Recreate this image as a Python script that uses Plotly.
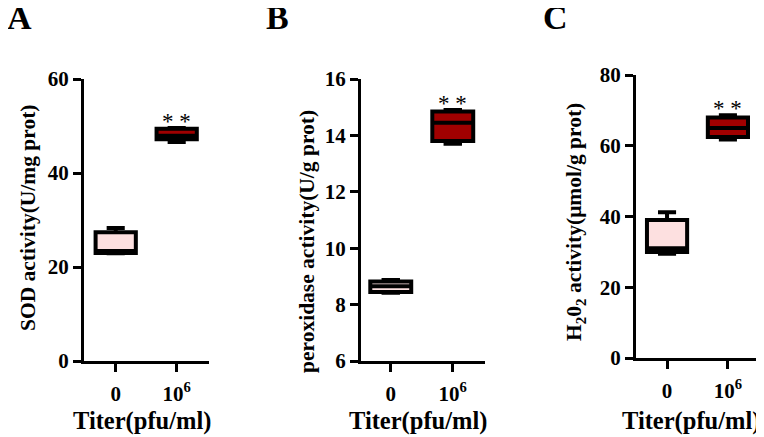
import plotly.graph_objects as go

# groups on the x axis
groups = ["0", "10<sup>6</sup>"]

# A: SOD activity (U/mg prot)
sod_low = [22.9, 46.6]
sod_q1 = [23.0, 47.2]
sod_med = [23.4, 47.9]
sod_q3 = [27.4, 49.4]
sod_high = [28.3, 49.6]

# B: peroxidase activity (U/g prot)
pod_low = [8.42, 13.7]
pod_q1 = [8.45, 13.8]
pod_med = [8.65, 14.45]
pod_q3 = [8.82, 14.85]
pod_high = [8.87, 14.9]

# C: H2O2 activity (umol/g prot)
h2o2_low = [29.5, 61.8]
h2o2_q1 = [30.0, 62.5]
h2o2_med = [31.0, 65.0]
h2o2_q3 = [39.0, 68.0]
h2o2_high = [41.2, 68.6]

fills = ["#FDE0E0", "#A00000"]
FONT = "Liberation Serif, Times New Roman, serif"
# page body has an 8px margin, so the figure is a bit smaller and offset
OFF = 8
W, H = 764 - OFF, 437 - OFF


def fx(x):
    return (x - OFF) / W


def fy(y):
    return 1 - (y - OFF) / H


fig = go.Figure()

panels = [
    ("", sod_low, sod_q1, sod_med, sod_q3, sod_high),
    ("2", pod_low, pod_q1, pod_med, pod_q3, pod_high),
    ("3", h2o2_low, h2o2_q1, h2o2_med, h2o2_q3, h2o2_high),
]
for ax, lo, q1, med, q3, hi in panels:
    for i, g in enumerate(groups):
        fig.add_trace(go.Box(
            x=[g], lowerfence=[lo[i]], q1=[q1[i]], median=[med[i]],
            q3=[q3[i]], upperfence=[hi[i]],
            fillcolor=fills[i], line=dict(color="black", width=4),
            width=0.66, whiskerwidth=0.45, showlegend=False,
            xaxis="x" + ax, yaxis="y" + ax, hoverinfo="skip",
        ))
    # significance stars over the infected group
    fig.add_annotation(x=groups[1], y=hi[1], xref="x" + ax, yref="y" + ax,
                       text="* *", showarrow=False, yanchor="bottom", yshift=-8,
                       font=dict(family=FONT, size=23, color="black"))

# pixel layout of each panel: x0, x1 of axis, y of bottom, y of top, range, ticks
px = [
    (84, 209, 361, 79, [0, 60], [0, 20, 40, 60], [-0.52, 1.53]),
    (361, 485, 361, 79, [6, 16], [6, 8, 10, 12, 14, 16], [-0.48, 1.52]),
    (636, 762, 358, 75, [0, 80], [0, 20, 40, 60, 80], [-0.51, 1.56]),
]
lay = {}
for k, (x0, x1, yb, yt, yr, tv, xr) in enumerate(px):
    sfx = "" if k == 0 else str(k + 1)
    common = dict(showline=True, linecolor="black", linewidth=3, ticks="outside",
                  ticklen=8, tickwidth=3, tickcolor="black", showgrid=False,
                  zeroline=False, automargin=False,
                  tickfont=dict(family=FONT, size=21, color="black", weight="bold"))
    lay["xaxis" + sfx] = dict(domain=[fx(x0), min(fx(x1), 1)], range=xr,
                              type="category", anchor="y" + sfx,
                              ticklabelstandoff=4, **common)
    lay["yaxis" + sfx] = dict(domain=[fy(yb), fy(yt)], range=yr,
                              tickvals=tv, anchor="x" + sfx, **common)
fig.update_layout(**lay)

ytitle_font = dict(family=FONT, size=21.5, color="black", weight="bold")
xtitle_font = dict(family=FONT, size=24.5, color="black", weight="bold")
ytitles = [
    ("SOD activity(U/mg prot)", 28, 218),
    ("peroxidase activity(U/g prot)", 307, 242),
    ("H<sub>2</sub>0<sub>2</sub> activity(μmol/g prot)", 575, 222),
]
for txt, xc, yc in ytitles:
    fig.add_annotation(x=fx(xc), y=fy(yc), xref="paper", yref="paper",
                       text=txt, textangle=-90, showarrow=False,
                       xanchor="center", yanchor="middle", font=ytitle_font)

for xc in [142, 418, 691]:
    fig.add_annotation(x=fx(xc), y=fy(421), xref="paper", yref="paper",
                       text="Titer(pfu/ml)", showarrow=False,
                       xanchor="center", yanchor="middle", font=xtitle_font)

for letter, xc in [("A", 19), ("B", 277), ("C", 555)]:
    fig.add_annotation(x=fx(xc), y=1 + 11 / H, xref="paper", yref="paper",
                       text=letter, showarrow=False, xanchor="center",
                       yanchor="top",
                       font=dict(family=FONT, size=34, color="black", weight="bold"))

fig.update_layout(width=W, height=H, margin=dict(l=0, r=0, t=0, b=0),
                  plot_bgcolor="white", paper_bgcolor="white", boxmode="overlay")

fig.write_html("out.html")
